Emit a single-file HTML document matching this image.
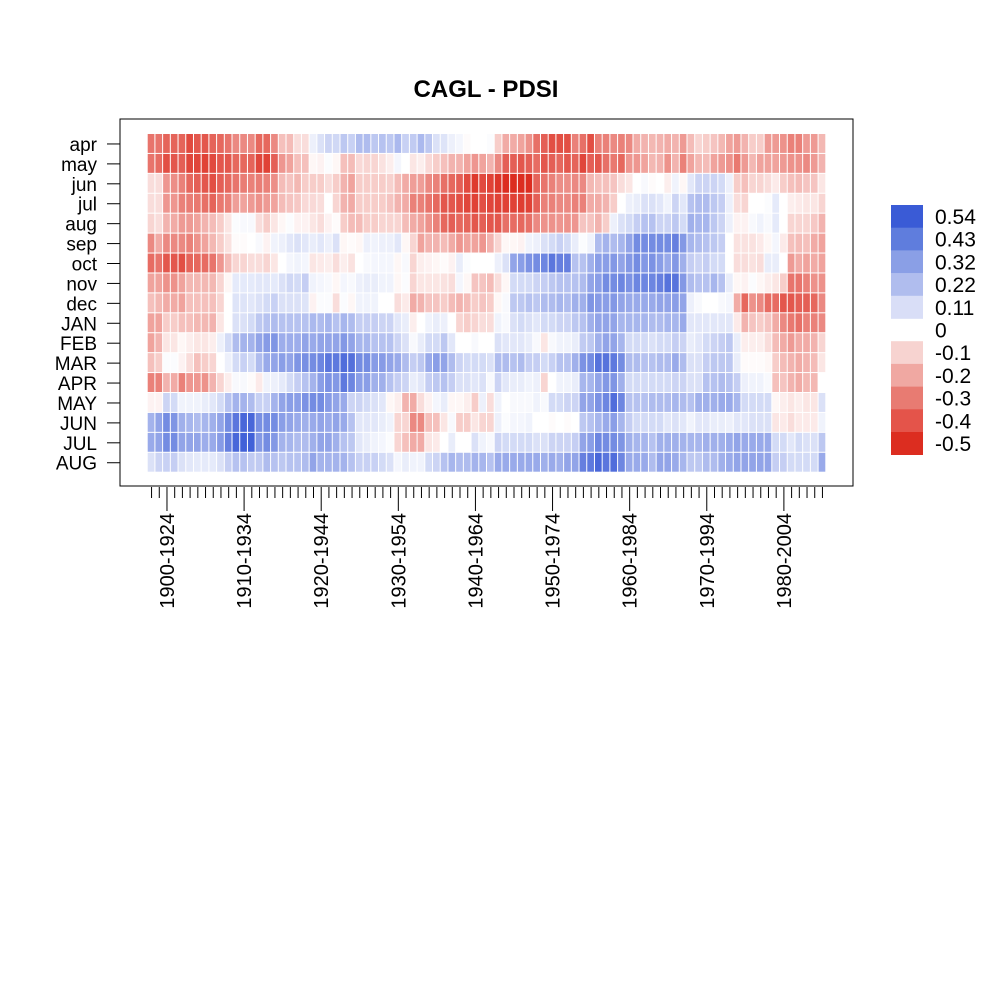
<!DOCTYPE html>
<html><head><meta charset="utf-8"><style>
html,body{margin:0;padding:0;background:#fff;}
svg{display:block;font-family:"Liberation Sans",Arial,sans-serif;}
</style></head><body>
<svg id="chart" width="998" height="998" viewBox="0 0 998 998">
<rect width="998" height="998" fill="#fff"/>
<text x="486" y="97" text-anchor="middle" font-size="24" font-weight="bold">CAGL - PDSI</text>
<rect x="120" y="119" width="733" height="367" fill="none" stroke="#000" stroke-width="1"/>
<g id="cells"></g>
<g id="yaxis"></g>
<g id="xaxis"></g>
<g id="legend"></g>
</svg>
<script>
const months = ["apr","may","jun","jul","aug","sep","oct","nov","dec","JAN","FEB","MAR","APR","MAY","JUN","JUL","AUG"];
const firstYear = 1898;
const windowLen = 24;
const labelStep = 10;
const legendBreaks = [0.54,0.43,0.32,0.22,0.11,0,-0.1,-0.2,-0.3,-0.4,-0.5];
// values in hundredths, one row per month, 88 windows each
const r_apr = [-33,-33,-37,-37,-37,-43,-40,-40,-37,-36,-33,-28,-28,-28,-36,-36,-28,-15,-16,-8,-8,5, 10,14,13,18,15,22,22,18,20,18,23,15,17,23,18,10,9,5,3,-1,0,0, 1,-12,-20,-20,-22,-26,-34,-38,-42,-42,-42,-30,-34,-42,-30,-30,-28,-30,-28,-20,-18,-17, -18,-20,-18,-24,-16,-10,-12,-14,-17,-22,-24,-18,-12,-12,-24,-24,-26,-30,-30,-24,-24,-17];
const r_may = [-33,-35,-42,-40,-38,-44,-44,-45,-43,-40,-40,-36,-36,-37,-44,-45,-38,-25,-22,-15,-15,-2, -3,1,-2,-15,-16,-9,-10,-10,-7,-4,3,0,-6,-4,-9,-12,-15,-18,-18,-22,-25,-22, -18,-28,-38,-38,-40,-38,-35,-40,-38,-36,-40,-37,-44,-38,-40,-34,-32,-36,-25,-25,-22,-17, -18,-26,-18,-30,-22,-17,-16,-22,-24,-26,-32,-24,-17,-22,-22,-22,-24,-26,-26,-28,-24,-18];
const r_jun = [-8,-8,-25,-27,-30,-36,-38,-40,-42,-38,-36,-33,-31,-30,-31,-30,-27,-16,-14,-17,-12,-12, -12,-8,-12,-18,-22,-12,-12,-12,-12,-11,-16,-20,-23,-23,-28,-30,-34,-36,-38,-43,-47,-43, -45,-48,-50,-50,-50,-50,-37,-33,-30,-27,-27,-28,-28,-17,-15,-15,-14,-8,-6,0,2,-1, 0,-4,4,-2,8,14,14,14,12,5,-12,-15,-10,-10,-8,-5,-12,-15,-16,-14,-14,-6];
const r_jul = [-8,-8,-25,-25,-30,-31,-32,-34,-37,-32,-30,-23,-22,-24,-26,-24,-22,-16,-14,-13,-9,-9, -8,0,-10,-18,-20,-12,-12,-12,-12,-14,-18,-20,-30,-30,-33,-36,-40,-40,-42,-44,-45,-42, -44,-45,-45,-45,-46,-45,-38,-30,-30,-28,-28,-30,-30,-20,-20,-18,-12,0,5,6,10,10, 8,4,14,8,20,22,22,18,16,5,-8,-10,0,0,1,7,0,-4,-5,-6,-6,-10];
const r_aug = [-10,-8,-18,-20,-24,-24,-22,-18,-16,-12,-6,1,2,2,-8,-12,-6,-2,1,-3,-3,-6, -8,-3,-1,-12,-16,-16,-12,-12,-10,-10,-10,-16,-20,-22,-26,-30,-36,-38,-36,-37,-40,-38, -40,-40,-34,-35,-36,-34,-28,-26,-26,-25,-26,-25,-14,-14,-18,-12,5,10,12,16,20,20, 14,14,18,12,26,24,24,18,14,5,-3,-3,2,4,2,7,0,-10,-10,-10,-13,-18];
const r_sep = [-28,-20,-28,-28,-28,-30,-26,-22,-17,-12,-7,-1,-1,0,2,-3,4,5,8,10,8,6, 8,5,10,-2,-1,-2,5,4,5,5,8,-2,-10,-22,-18,-18,-16,-20,-25,-22,-22,-25, -18,-10,-2,-2,-3,4,5,10,12,15,12,6,1,4,22,25,22,24,30,38,38,38, 38,38,42,34,24,22,20,18,16,0,-7,-7,-7,-5,-2,3,-5,-15,-16,-15,-20,-22];
const r_oct = [-35,-33,-40,-40,-42,-37,-36,-35,-33,-25,-16,-10,-10,-8,-8,-10,-6,0,3,4,3,-6, -5,-4,-8,-4,-7,0,2,3,3,3,-2,2,-10,-4,-3,-2,-1,-3,6,1,0,0, 0,5,10,30,32,36,38,40,45,42,42,20,20,26,32,32,34,30,34,38,34,36, 32,28,34,26,16,14,16,12,12,0,-8,-8,-7,-8,6,6,0,-24,-20,-22,-20,-22];
const r_nov = [-22,-22,-26,-26,-22,-17,-17,-17,-17,-10,-2,7,7,7,8,8,7,10,13,12,16,4, 3,2,-2,3,2,5,6,6,4,4,-2,1,-10,-6,-6,-6,-7,-8,3,-2,-14,-14, -16,-8,-2,12,12,12,14,16,18,20,20,20,22,30,32,38,38,40,36,40,40,40, 42,46,46,34,22,20,20,24,20,6,-2,-3,1,-2,-4,-6,-12,-33,-33,-30,-26,-26];
const r_dec = [-15,-17,-20,-20,-22,-15,-15,-15,-15,-10,0,9,9,8,10,12,15,10,10,10,9,-3, 1,1,-8,1,-2,4,4,4,0,0,-8,-5,-20,-18,-14,-14,-12,-16,-18,-16,-12,-14, -12,-2,2,18,18,20,18,22,22,24,22,26,26,35,33,32,34,30,28,28,28,28, 30,30,32,30,5,2,0,0,2,3,-20,-36,-26,-28,-35,-35,-40,-40,-38,-38,-36,-28];
const r_JAN = [-22,-22,-12,-12,-15,-15,-17,-17,-18,-6,0,10,10,12,18,20,22,20,20,20,20,23, 22,24,20,24,22,16,16,16,14,14,8,6,-4,0,4,6,5,0,-10,-12,-10,-8, -8,4,2,10,12,10,8,12,12,14,14,18,20,26,30,30,30,24,24,24,24,22, 22,24,24,28,8,8,8,8,8,8,-5,-18,-14,-12,-14,-20,-28,-32,-34,-30,-30,-28];
const r_FEB = [-22,-18,-6,-6,-2,-4,-6,-6,-4,5,12,22,25,25,30,33,35,27,27,27,30,28, 30,30,30,34,30,24,24,20,20,20,14,10,2,6,12,12,18,8,0,0,2,0, 0,10,8,8,8,6,2,-6,2,4,4,6,17,18,26,30,30,24,12,12,12,10, 12,12,16,14,6,8,12,14,16,18,6,-4,-4,-4,-8,-16,-20,-24,-20,-20,-18,-10];
const r_MAR = [-15,-12,1,1,-3,-8,-15,-12,-10,0,5,12,15,12,22,28,30,32,30,35,37,38, 40,45,44,48,47,38,38,33,33,30,28,22,16,18,28,32,30,22,14,12,12,12, 10,22,22,20,22,16,16,12,15,20,20,26,36,38,46,46,44,38,22,22,20,20, 22,22,28,22,10,10,16,18,18,18,6,-1,-1,-1,-2,-12,-16,-18,-20,-18,-16,-6];
const r_APR = [-30,-30,-18,-20,-30,-25,-25,-26,-18,-10,-4,2,2,-1,-5,4,5,7,12,16,20,25, 32,36,34,44,40,32,32,26,26,20,16,14,6,8,16,18,20,16,10,10,8,10, 2,14,8,6,6,4,5,-10,0,4,4,6,24,24,30,34,35,26,12,12,12,12, 12,12,14,14,10,10,20,20,22,20,16,5,4,4,2,-15,-14,-18,-20,-17,-17,0];
const r_MAY = [-3,-3,14,12,4,4,4,6,8,12,20,25,25,22,15,15,25,30,32,32,36,38, 38,33,30,28,14,14,12,10,8,-2,-4,-18,-20,-8,-3,3,6,-2,-2,-4,-12,5, -8,4,0,2,2,2,4,2,12,12,14,14,30,30,36,40,48,40,20,20,20,22, 22,22,24,22,20,26,26,26,28,28,24,12,12,12,12,-2,-4,-6,-4,-6,-6,10];
const r_JUN = [25,30,38,35,26,24,22,24,26,30,38,45,50,50,37,38,38,32,30,28,26,28, 30,28,30,28,20,8,8,8,6,4,-10,-10,-28,-28,-15,-15,-6,2,-12,-12,-6,-10, -10,5,1,3,3,4,0,0,-1,0,-1,0,18,20,24,28,32,24,16,12,12,12, 12,8,10,8,4,8,8,6,6,5,8,8,10,10,10,-6,-5,-8,-5,-5,-5,4];
const r_JUL = [28,30,38,38,30,30,30,27,28,33,42,50,52,52,34,38,34,25,24,22,22,26, 30,30,26,20,18,8,6,4,3,1,-10,-15,-20,-20,-6,-5,0,6,0,0,10,4, 2,14,12,12,12,12,10,10,14,14,14,16,30,32,40,38,38,35,26,24,24,20, 26,26,26,25,24,24,26,26,26,28,30,28,28,28,28,12,12,8,12,10,10,18];
const r_AUG = [10,14,15,16,10,8,7,7,7,10,16,20,20,17,17,22,20,18,20,20,22,30, 25,25,25,25,20,15,15,15,12,10,3,6,4,4,12,14,20,24,22,22,25,24, 20,28,28,28,28,28,28,26,28,26,30,30,42,44,50,45,48,40,28,28,28,22, 30,30,28,24,18,18,22,22,26,28,30,30,30,30,30,16,16,12,12,12,12,28];
const rows = [r_apr,r_may,r_jun,r_jul,r_aug,r_sep,r_oct,r_nov,r_dec,r_JAN,r_FEB,r_MAR,r_APR,r_MAY,r_JUN,r_JUL,r_AUG];

const NS = "http://www.w3.org/2000/svg";
const plotL = 147.7, plotR = 826.3, plotT = 134, plotB = 472.7;
const nCols = r_apr.length;
const cw = (plotR - plotL) / nCols;
const rh = (plotB - plotT) / months.length;
const xPos = i => plotL + i * cw;
const yPos = j => plotT + j * rh;
const blue = [58,91,214], red = [220,45,32];
function colorOf(v) {
  let c, t;
  if (v >= 0) { c = blue; t = Math.min(1, v / 0.54); } else { c = red; t = Math.min(1, -v / 0.5); }
  const mix = k => Math.round(255 + (c[k] - 255) * t);
  return `rgb(${mix(0)},${mix(1)},${mix(2)})`;
}
function mk(tag, attrs, parent) {
  const el = document.createElementNS(NS, tag);
  for (const k in attrs) el.setAttribute(k, attrs[k]);
  parent.appendChild(el);
  return el;
}
const cells = document.getElementById("cells");
rows.forEach((row, j) => {
  row.forEach((v, i) => {
    const r = mk("rect", {x: xPos(i).toFixed(2), y: yPos(j).toFixed(2), width: (cw - 1).toFixed(2), height: (rh - 1).toFixed(2), fill: colorOf(v / 100)}, cells);
    
    
  });
});
const yaxis = document.getElementById("yaxis");
months.forEach((m, j) => {
  const yc = yPos(j) + rh / 2;
  const t = mk("line", {x1: 107, x2: 120, y1: yc, y2: yc, stroke: "#000"}, yaxis);
  
  
  const lb = mk("text", {x: 97, y: yc + 7, "text-anchor": "end", "font-size": 19}, yaxis);
  lb.textContent = m;
  
  
});
const xaxis = document.getElementById("xaxis");
for (let i = 0; i < nCols; i++) {
  const xc = xPos(i) + cw / 2;
  const yr = firstYear + i;
  const major = (yr - 1900) % labelStep === 0 && yr >= 1900;
  const t = mk("line", {x1: xc, x2: xc, y1: 487, y2: major ? 511 : 498, stroke: "#000"}, xaxis);
  
  
  if (major) {
    const lb = mk("text", {x: 0, y: 0, "text-anchor": "end", "font-size": 20, transform: `translate(${(xc + 7).toFixed(1)},513) rotate(-90)`}, xaxis);
    lb.textContent = yr + "-" + (yr + windowLen);
    
    
  }
}
const legend = document.getElementById("legend");
const legColors = ["#3a5bd6","#5f7ddd","#8a9fe6","#b0bdee","#d9def7",null,"#f7d3d0","#f0a8a2","#e87b72","#e4544a","#dc2d20"];
legendBreaks.forEach((b, k) => {
  const y0 = 205 + k * 22.7;
  if (legColors[k]) {
    const r = mk("rect", {x: 891, y: y0.toFixed(1), width: 32, height: 23, fill: legColors[k]}, legend);
    
    
  }
  const lb = mk("text", {x: 935, y: (y0 + 19).toFixed(1), "font-size": 21}, legend);
  lb.textContent = String(b);
  
  
});
</script>
</body></html>
